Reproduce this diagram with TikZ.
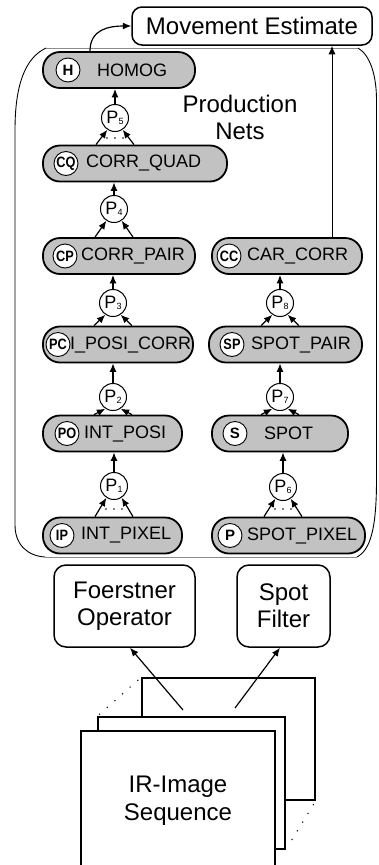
\documentclass[tikz,border=0pt]{standalone}
\usepackage{fontspec}
\setmainfont{Liberation Sans}
\usetikzlibrary{arrows.meta,calc}
\definecolor{pillgray}{RGB}{194,194,194}
\newcommand{\psub}[1]{P\raisebox{-1.5pt}{\fontsize{9}{9}\selectfont #1}}
\begin{document}
\begin{tikzpicture}[x=1pt,y=-1pt,
  arr/.style={-{Latex[length=8.5pt,width=7pt]}, line width=1.2pt},
  pillbox/.style={draw, line width=1.8pt, fill=pillgray, rounded corners=17pt, minimum height=36pt, inner sep=0pt},
  pilltext/.style={anchor=west, inner sep=0pt, font=\fontsize{18}{20}\selectfont},
  tag/.style={circle, draw, line width=0.9pt, fill=white, minimum size=24pt, inner sep=0pt,
    font=\fontsize{15}{15}\selectfont\bfseries},
  pnode/.style={circle, draw, line width=1pt, fill=white, minimum size=27pt, inner sep=0pt,
    font=\fontsize{18}{18}\selectfont},
  bigbox/.style={draw, line width=1.5pt, rounded corners=10pt, inner sep=0pt, align=center,
    font=\fontsize{24}{27}\selectfont},
  frame/.style={draw, line width=1.5pt, fill=white, inner sep=0pt, align=center,
    font=\fontsize{24}{28}\selectfont},
  sparsedots/.style={line width=1pt, dash pattern=on 1.2pt off 9pt}
]
\useasboundingbox (0,0) rectangle (378,865);

% container of production nets
\draw[line width=0.9pt] (46,48) .. controls (25,58) and (15,85) .. (15,130) -- (15,525)
   .. controls (15,545) and (28,556) .. (45,557);
\draw[line width=0.9pt] (358,48) .. controls (370,55) and (376.5,75) .. (376.5,100) -- (376.5,480)
   .. controls (376.5,530) and (370,550) .. (357,557);
\draw[line width=0.8pt, black!45] (46,48) -- (358,48);
\draw[line width=0.8pt, black!45] (45,557) -- (357,557);

% movement estimate
\node[bigbox, minimum width=240pt, minimum height=38pt] (me) at (252,26) {Movement Estimate};
\node[align=center, font=\fontsize{24}{27}\selectfont] (pn) at (240,117) {Production\\Nets};

% pills
\node[pillbox, minimum width=152pt] (homog) at (119,70) {};
\node[tag] (homogc) at (68,70) {H};
\node[pilltext] (homogt) at (97,70) {HOMOG};

\node[pillbox, minimum width=184pt] (cq) at (135,163.5) {};
\node[tag] (cqc) at (66,163.5) {\scalebox{0.85}[1]{CQ}};
\node[pilltext] (cqt) at (86,163.5) {CORR\_QUAD};

\node[pillbox, minimum width=152pt] (cp) at (119,256) {};
\node[tag] (cpc) at (65,256) {\scalebox{0.85}[1]{CP}};
\node[pilltext] (cpt) at (81,256) {CORR\_PAIR};

\node[pillbox, minimum width=150pt] (cc) at (287,256) {};
\node[tag] (ccc) at (229,256) {\scalebox{0.85}[1]{CC}};
\node[pilltext] (cct) at (247,256) {CAR\_CORR};

\node[pillbox, minimum width=150pt] (pc) at (118,344.5) {};
\node[tag] (pcc) at (58,344.5) {\scalebox{0.85}[1]{PC}};
\node[pilltext] (pct) at (70,344.5) {I\_POSI\_CORR};

\node[pillbox, minimum width=153pt] (sp) at (285.5,344.5) {};
\node[tag] (spc) at (232,344.5) {\scalebox{0.85}[1]{SP}};
\node[pilltext] (spt) at (251,344.5) {SPOT\_PAIR};

\node[pillbox, minimum width=139pt] (po) at (112.5,433.5) {};
\node[tag] (poc) at (67,433.5) {\scalebox{0.85}[1]{PO}};
\node[pilltext] (pot) at (84,433.5) {INT\_POSI};

\node[pillbox, minimum width=136pt] (s) at (280,433.5) {};
\node[tag] (sc) at (235,433.5) {S};
\node[pilltext] (st) at (264,433.5) {SPOT};

\node[pillbox, minimum width=139pt] (ip) at (112.5,535.5) {};
\node[tag] (ipc) at (62,535.5) {\scalebox{0.85}[1]{IP}};
\node[pilltext] (ipt) at (81,535.5) {INT\_PIXEL};

\node[pillbox, minimum width=153pt] (spx) at (288.5,535.5) {};
\node[tag] (spxc) at (230,535.5) {P};
\node[pilltext] (spxt) at (247,535.5) {SPOT\_PIXEL};

% production nodes
\node[pnode] (p5) at (115,118) {\psub{5}};
\node[pnode] (p4) at (114,209) {\psub{4}};
\node[pnode] (p3) at (113,303) {\psub{3}};
\node[pnode] (p2) at (113,397) {\psub{2}};
\node[pnode] (p1) at (114,486) {\psub{1}};
\node[pnode] (p8) at (280,303) {\psub{8}};
\node[pnode] (p7) at (280,397) {\psub{7}};
\node[pnode] (p6) at (283,487) {\psub{6}};

% arrows up from P nodes
\draw[arr] (p5.north) -- (p5.north |- homog.south);
\draw[arr] (p4.north) -- (p4.north |- cq.south);
\draw[arr] (p3.north) -- (p3.north |- cp.south);
\draw[arr] (p2.north) -- (p2.north |- pc.south);
\draw[arr] (p1.north) -- (p1.north |- po.south);
\draw[arr] (p8.north) -- (p8.north |- cc.south);
\draw[arr] (p7.north) -- (p7.north |- sp.south);
\draw[arr] (p6.north) -- (p6.north |- s.south);

% arrows into P nodes
\foreach \p/\q in {p5/cq, p4/cp, p3/pc, p2/po, p1/ip, p8/sp, p7/s, p6/spx}{
  \draw[arr] ([xshift=-19pt]\p |- \q.north) -- (\p.237);
  \draw[arr] ([xshift=19pt]\p |- \q.north) -- (\p.303);
}
% dots
\foreach \dx in {-8,0,8}{
  \fill ($(p5)+(\dx,20)$) circle (0.9);
  \fill ($(p1)+(\dx,23)$) circle (0.9);
  \fill ($(p6)+(\dx,22)$) circle (0.9);
}

% to movement estimate
\draw[arr] ([xshift=-29pt]homog.north) .. controls +(0,-22) and +(-22,0) .. (me.west);
\draw[arr, line width=1pt] ([xshift=45pt]cc.north) -- ([xshift=45pt]cc.north |- me.south);

% operators
\node[bigbox, rounded corners=12pt, minimum width=141pt, minimum height=82pt] (fo) at (124.5,606) {Foerstner\\Operator};
\node[bigbox, rounded corners=12pt, minimum width=93pt, minimum height=82pt] (sf) at (283.5,606) {Spot\\Filter};

% image stack
\node[frame, minimum width=173pt, minimum height=122pt] (back) at (228.5,739) {};
\node[frame, minimum width=187pt, minimum height=132pt] (mid) at (191.5,783) {};
\node[frame, minimum width=194pt, minimum height=140pt] (front) at (178,801) {IR-Image\\Sequence};
\draw[sparsedots, shorten <=4pt, shorten >=1pt] (back.north west) -- (mid.north west);
\draw[sparsedots, shorten <=4pt, shorten >=6pt] (back.south east) -- (mid.south east);

\coordinate (s1) at (183,710);
\coordinate (s2) at (235,708);
\draw[arr] (s1) -- ([xshift=5.5pt]fo.south);
\draw[arr] (s2) -- ([xshift=-3.5pt]sf.south);
\end{tikzpicture}
\end{document}
